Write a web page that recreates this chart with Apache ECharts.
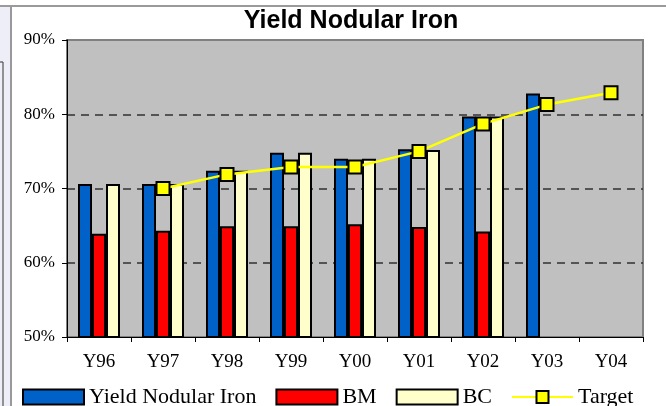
<!DOCTYPE html>
<html>
<head>
<meta charset="utf-8">
<script src="https://cdn.jsdelivr.net/npm/echarts@6/dist/echarts.min.js"></script>
<style>
  html, body { margin: 0; padding: 0; background: #fff; }
  #main { width: 666px; height: 406px; }
</style>
</head>
<body>
<div id="main"></div>
<script>
var years = ['Y96', 'Y97', 'Y98', 'Y99', 'Y00', 'Y01', 'Y02', 'Y03', 'Y04'];
var yieldIron = [70.6, 70.6, 72.4, 74.8, 74.0, 75.3, 79.7, 82.8, null];
var bm = [63.9, 64.3, 64.9, 64.9, 65.2, 64.8, 64.2, null, null];
var bc = [70.6, 70.6, 72.4, 74.8, 74.0, 75.2, 79.7, null, null];
var target = [null, 70.0, 71.9, 72.9, 72.9, 75.0, 78.7, 81.3, 82.9];

var serif = '"Liberation Serif", "DejaVu Serif", serif';
var chart = echarts.init(document.getElementById('main'), null, { renderer: 'canvas' });

function barSeries(name, data, color) {
  return {
    name: name,
    type: 'bar',
    data: data,
    barWidth: 14,
    barGap: '0%',
    itemStyle: { color: color, borderColor: '#000', borderWidth: 2 }
  };
}

chart.setOption({
  animation: false,
  backgroundColor: '#fff',
  title: {
    text: 'Yield Nodular Iron',
    left: 346,
    top: 4,
    textAlign: 'center',
    textStyle: { fontFamily: '"Liberation Sans", Arial, sans-serif', fontSize: 25, fontWeight: 'bold', color: '#000' }
  },
  grid: {
    left: 67, right: 23, top: 40, bottom: 69,
    show: true,
    backgroundColor: '#C0C0C0',
    borderColor: '#808080',
    borderWidth: 2
  },
  legend: {
    left: 17,
    top: 381,
    itemWidth: 61,
    itemHeight: 15,
    itemGap: 19,
    textStyle: { fontFamily: serif, fontSize: 22, color: '#000' },
    data: [
      { name: 'Yield Nodular Iron', icon: 'rect' },
      { name: 'BM', icon: 'rect' },
      { name: 'BC', icon: 'rect' },
      { name: 'Target' }
    ]
  },
  xAxis: {
    type: 'category',
    data: years,
    boundaryGap: true,
    axisLine: { lineStyle: { color: '#000', width: 1 } },
    axisTick: { show: true, length: 5, lineStyle: { color: '#000' } },
    axisLabel: { fontFamily: serif, fontSize: 19, color: '#000', margin: 16 }
  },
  yAxis: {
    type: 'value',
    min: 50,
    max: 90,
    interval: 10,
    axisLine: { show: true, lineStyle: { color: '#000', width: 1 } },
    axisTick: { show: true, length: 5, lineStyle: { color: '#000' } },
    axisLabel: { fontFamily: serif, fontSize: 17, color: '#000', margin: 12, formatter: '{value}%' },
    splitLine: {
      show: true,
      showMinLine: false,
      showMaxLine: false,
      lineStyle: { color: '#303030', width: 1.5, type: [8, 6] }
    }
  },
  series: [
    barSeries('Yield Nodular Iron', yieldIron, '#0062C8'),
    barSeries('BM', bm, '#FF0000'),
    barSeries('BC', bc, '#FFFFCC'),
    {
      name: 'Target',
      type: 'line',
      data: target,
      z: 5,
      symbol: 'rect',
      symbolSize: 13,
      lineStyle: { color: '#FFFF00', width: 2.5 },
      itemStyle: { color: '#FFFF00', borderColor: '#000', borderWidth: 2 }
    }
  ],
  graphic: [
    // page frame bits around the pasted chart
    { type: 'rect', shape: { x: 0, y: 7, width: 10, height: 399 }, style: { fill: '#EEEEF8' }, silent: true },
    { type: 'line', shape: { x1: 0, y1: 6, x2: 666, y2: 6 }, style: { stroke: '#9A9A9A', lineWidth: 2 }, silent: true },
    { type: 'line', shape: { x1: 11, y1: 7, x2: 11, y2: 406 }, style: { stroke: '#333', lineWidth: 1 }, silent: true },
    { type: 'polyline', shape: { points: [[0, 62], [3, 62], [3, 406]] }, style: { stroke: '#333', lineWidth: 1, fill: null }, silent: true }
  ]
});
</script>
</body>
</html>
